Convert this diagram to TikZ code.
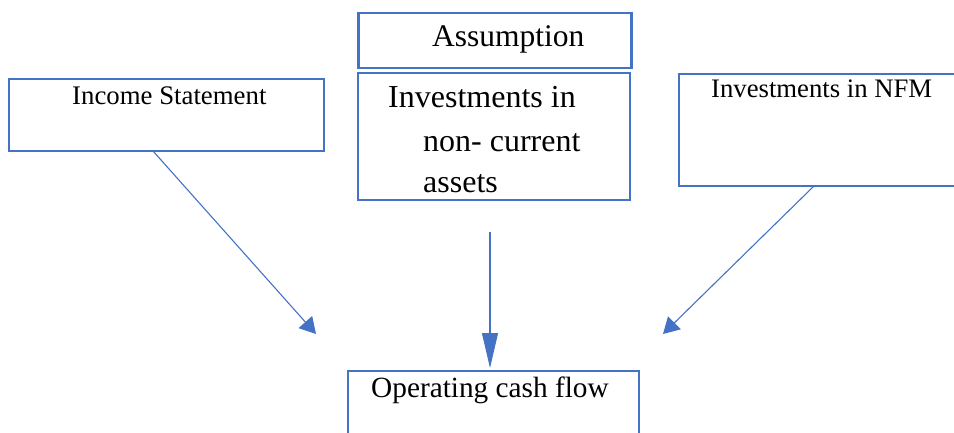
\documentclass[tikz,border=0pt]{standalone}
\usepackage{fontspec}
\setmainfont{Liberation Serif}
\usetikzlibrary{arrows.meta}
\definecolor{boxblue}{HTML}{4472C4}
\tikzset{
  box/.style={draw=boxblue, line width=2.8pt, fill=white, inner sep=0pt},
  lbl/.style={anchor=base west, inner sep=0pt, text=black},
  flow/.style={draw=boxblue, line width=1.1pt,
    -{Triangle[length=16pt,width=18pt]}},
  longflow/.style={draw=boxblue, line width=1.1pt,
    -{Triangle[length=35pt,width=16pt]}}
}
\begin{document}
\begin{tikzpicture}[x=1pt,y=-1pt]
  \useasboundingbox (0,0) rectangle (954,433);
  % boxes
  \node[box, minimum width=273pt, minimum height=55pt] (assump) at (495,40.5) {};
  \node[box, minimum width=272pt, minimum height=127pt] (nca) at (494,136.5) {};
  \node[box, minimum width=315pt, minimum height=72pt] (inc) at (166.5,115) {};
  \node[box, minimum width=300pt, minimum height=112pt] (nfm) at (829,130) {};
  \node[box, minimum width=291pt, minimum height=90pt] (ocf) at (493.5,416) {};
  % labels
  \node[lbl, font=\fontsize{31.5}{36}\selectfont] (tA) at (432,47) {Assumption};
  \node[lbl, font=\fontsize{32}{36}\selectfont] (tB1) at (388,108) {Investments in};
  \node[lbl, font=\fontsize{32}{36}\selectfont] (tB2) at (423,152) {non- current};
  \node[lbl, font=\fontsize{32}{36}\selectfont] (tB3) at (423,193) {assets};
  \node[lbl, font=\fontsize{26.8}{30}\selectfont] (tC) at (72,105) {Income Statement};
  \node[lbl, font=\fontsize{26.7}{30}\selectfont] (tD) at (711,98) {Investments in NFM};
  \node[lbl, font=\fontsize{29.3}{33}\selectfont] (tE) at (371,397) {Operating cash flow};
  % connector end points
  \coordinate (incS) at (153,151);
  \coordinate (incT) at (316,334);
  \coordinate (ncaS) at (490,232);
  \coordinate (ncaT) at (490,368);
  \coordinate (nfmS) at (814,186);
  \coordinate (nfmT) at (663,334);
  % connectors
  \draw[flow] (incS) -- (incT);
  \draw[longflow] (ncaS) -- (ncaT);
  \draw[flow] (nfmS) -- (nfmT);
\end{tikzpicture}
\end{document}
